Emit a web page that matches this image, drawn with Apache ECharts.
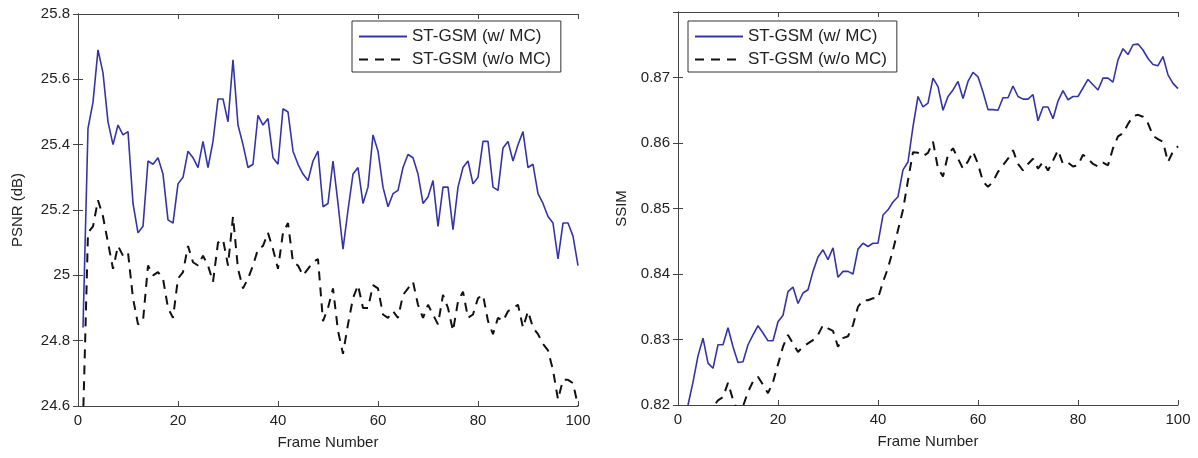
<!DOCTYPE html>
<html>
<head>
<meta charset="utf-8">
<script src="https://cdn.jsdelivr.net/npm/echarts@6/dist/echarts.min.js"></script>
<style>
  html, body { margin: 0; padding: 0; background: #fff; }
  #chart { width: 1198px; height: 458px; }
</style>
</head>
<body>
<div id="chart"></div>
<script>
// frame numbers 1..100
const frames = [];
for (let i = 1; i <= 100; i++) frames.push(i);

// PSNR (dB), left plot
const psnrMC = [
  24.84, 25.45, 25.53, 25.69, 25.62, 25.47, 25.40, 25.46, 25.43, 25.44,
  25.22, 25.13, 25.15, 25.35, 25.34, 25.36, 25.31, 25.17, 25.16, 25.28,
  25.30, 25.38, 25.36, 25.33, 25.41, 25.33, 25.41, 25.54, 25.54, 25.47,
  25.66, 25.46, 25.40, 25.33, 25.34, 25.49, 25.46, 25.48, 25.36, 25.34,
  25.51, 25.50, 25.38, 25.34, 25.31, 25.29, 25.35, 25.38, 25.21, 25.22,
  25.35, 25.22, 25.08, 25.20, 25.31, 25.33, 25.22, 25.27, 25.43, 25.38,
  25.27, 25.21, 25.25, 25.26, 25.33, 25.37, 25.36, 25.31, 25.22, 25.24,
  25.29, 25.15, 25.27, 25.27, 25.14, 25.27, 25.33, 25.35, 25.28, 25.30,
  25.41, 25.41, 25.27, 25.26, 25.39, 25.41, 25.35, 25.40, 25.44, 25.33,
  25.34, 25.25, 25.22, 25.18, 25.16, 25.05, 25.16, 25.16, 25.12, 25.03
];
const psnrNoMC = [
  24.55, 25.13, 25.15, 25.23, 25.18, 25.10, 25.02, 25.09, 25.06, 25.07,
  24.93, 24.85, 24.86, 25.03, 25.00, 25.01, 24.99, 24.90, 24.87, 24.99,
  25.01, 25.09, 25.04, 25.03, 25.06, 25.03, 24.98, 25.10, 25.11, 25.03,
  25.18, 25.02, 24.96, 24.99, 25.03, 25.08, 25.09, 25.13, 25.08, 25.02,
  25.13, 25.16, 25.04, 25.03, 25.00, 25.02, 25.04, 25.05, 24.86, 24.90,
  24.96, 24.83, 24.76, 24.85, 24.93, 24.97, 24.90, 24.90, 24.97, 24.96,
  24.88, 24.87, 24.89, 24.87, 24.94, 24.96, 24.98, 24.91, 24.87, 24.91,
  24.88, 24.85, 24.94, 24.90, 24.83, 24.92, 24.95, 24.87, 24.88, 24.93,
  24.94, 24.86, 24.82, 24.87, 24.86, 24.89, 24.90, 24.91, 24.84, 24.89,
  24.84, 24.82, 24.79, 24.77, 24.71, 24.62, 24.68, 24.68, 24.67, 24.60
];

// SSIM, right plot
const ssimMC = [
  0.8185, 0.8200, 0.8235, 0.8275, 0.8302, 0.8264, 0.8256, 0.8292, 0.8292, 0.8318,
  0.8289, 0.8265, 0.8266, 0.8292, 0.8307, 0.8321, 0.8310, 0.8298, 0.8298, 0.8327,
  0.8337, 0.8373, 0.8380, 0.8355, 0.8371, 0.8376, 0.8404, 0.8426, 0.8437, 0.8422,
  0.8440, 0.8395, 0.8404, 0.8404, 0.8400, 0.8438, 0.8447, 0.8442, 0.8447, 0.8447,
  0.8490, 0.8498, 0.8510, 0.8518, 0.8559, 0.8571, 0.8625, 0.8671, 0.8655, 0.8661,
  0.8699, 0.8686, 0.8650, 0.8671, 0.8681, 0.8694, 0.8668, 0.8694, 0.8708, 0.8701,
  0.8678, 0.8651, 0.8651, 0.8650, 0.8669, 0.8669, 0.8687, 0.8671, 0.8667, 0.8667,
  0.8674, 0.8634, 0.8655, 0.8655, 0.8637, 0.8664, 0.8680, 0.8666, 0.8671, 0.8671,
  0.8684, 0.8697, 0.8689, 0.8681, 0.8699, 0.8699, 0.8693, 0.8727, 0.8744, 0.8735,
  0.8750, 0.8751, 0.8742, 0.8729, 0.8720, 0.8718, 0.8732, 0.8704, 0.8691, 0.8683
];
const ssimNoMC = [
  0.8120, 0.8140, 0.8150, 0.8165, 0.8180, 0.8190, 0.8197, 0.8207, 0.8212, 0.8234,
  0.8208, 0.8190, 0.8198, 0.8220, 0.8236, 0.8243, 0.8231, 0.8218, 0.8235, 0.8262,
  0.8289, 0.8307, 0.8294, 0.8281, 0.8289, 0.8294, 0.8299, 0.8307, 0.8322, 0.8317,
  0.8313, 0.8289, 0.8302, 0.8305, 0.8322, 0.8350, 0.8360, 0.8360, 0.8363, 0.8363,
  0.8388, 0.8409, 0.8437, 0.8467, 0.8498, 0.8543, 0.8586, 0.8585, 0.8580, 0.8585,
  0.8602, 0.8561, 0.8549, 0.8582, 0.8592, 0.8576, 0.8561, 0.8572, 0.8587, 0.8568,
  0.8541, 0.8533, 0.8541, 0.8556, 0.8566, 0.8576, 0.8589, 0.8568, 0.8558, 0.8568,
  0.8576, 0.8561, 0.8571, 0.8558, 0.8573, 0.8589, 0.8568, 0.8570, 0.8564, 0.8566,
  0.8582, 0.8576, 0.8568, 0.8564, 0.8570, 0.8566, 0.8592, 0.8610, 0.8615, 0.8629,
  0.8641, 0.8643, 0.8640, 0.8630, 0.8611, 0.8606, 0.8602, 0.8571, 0.8587, 0.8595
];

const nameMC = 'ST-GSM (w/ MC)';
const nameNoMC = 'ST-GSM (w/o MC)';

const font = 'Liberation Sans, Arial, sans-serif';
const axisColor = '#444';
const txt = '#222';

function pairs(ys) { return frames.map((f, i) => [f, ys[i]]); }

// bottom/left axes carry labels, top/right ones only mirror the ticks (matlab box)
function xAx(grid, main) {
  return {
    type: 'value', gridIndex: grid, min: 0, max: 100, interval: 20,
    position: main ? 'bottom' : 'top',
    name: main ? 'Frame Number' : '', nameLocation: 'middle', nameGap: 29,
    nameTextStyle: { fontFamily: font, fontSize: 15, color: txt },
    axisLine: { show: true, lineStyle: { color: axisColor, width: 1 } },
    axisTick: { show: true, inside: true, length: 5, lineStyle: { color: axisColor } },
    axisLabel: { show: main, fontFamily: font, fontSize: 15, color: txt, margin: 7 },
    splitLine: { show: false }
  };
}
function yAx(grid, main, o) {
  return Object.assign({
    type: 'value', gridIndex: grid,
    position: main ? 'left' : 'right',
    nameLocation: 'middle', nameRotate: 90,
    nameTextStyle: { fontFamily: font, fontSize: 15, color: txt },
    axisLine: { show: true, lineStyle: { color: axisColor, width: 1 } },
    axisTick: { show: true, inside: true, length: 5, lineStyle: { color: axisColor } },
    axisLabel: {
      show: main, fontFamily: font, fontSize: 15, color: txt, margin: 8,
      formatter: v => (o.top != null && v > o.top ? '' : String(+v.toFixed(2)))
    },
    splitLine: { show: false }
  }, o.ax);
}

const psnrAx = { min: 24.6, max: 25.8, interval: 0.2 };
const ssimAx = { min: 0.82, max: 0.88, interval: 0.01 };

function legend(left) {
  return {
    left: left, top: 21, orient: 'vertical',
    data: [nameMC, nameNoMC],
    backgroundColor: '#fff', borderColor: '#333', borderWidth: 1, borderRadius: 0,
    padding: [7, 10, 4, 6], itemGap: 6, itemWidth: 48, itemHeight: 18,
    selectedMode: false,
    itemStyle: { opacity: 0 },   // hide the marker, keep only the line sample
    textStyle: { fontFamily: font, fontSize: 17, color: txt }
  };
}

const blueStyle = { color: '#3434a8', width: 1.6, type: 'solid' };
const dashStyle = { color: '#111', width: 2, type: [9, 7] };

function line(name, ys, xi, yi, style) {
  return {
    name: name, type: 'line', xAxisIndex: xi, yAxisIndex: yi,
    data: pairs(ys), symbol: 'none', showSymbol: false, clip: true,
    itemStyle: { color: style.color },
    lineStyle: style, animation: false
  };
}

const chart = echarts.init(document.getElementById('chart'), null, { renderer: 'canvas' });
chart.setOption({
  backgroundColor: '#fff',
  animation: false,
  grid: [
    { left: 78, top: 14, width: 500, height: 392 },
    { left: 678, top: 12, width: 500, height: 393 }
  ],
  legend: [legend(352), legend(688)],
  xAxis: [xAx(0, true), xAx(0, false), xAx(1, true), xAx(1, false)],
  yAxis: [
    yAx(0, true, { ax: Object.assign({ name: 'PSNR (dB)', nameGap: 53 }, psnrAx) }),
    yAx(0, false, { ax: Object.assign({}, psnrAx) }),
    yAx(1, true, { ax: Object.assign({ name: 'SSIM', nameGap: 49 }, ssimAx), top: 0.875 }),
    yAx(1, false, { ax: Object.assign({}, ssimAx), top: 0.875 })
  ],
  series: [
    line(nameMC, psnrMC, 0, 0, blueStyle),
    line(nameNoMC, psnrNoMC, 0, 0, dashStyle),
    line(nameMC, ssimMC, 2, 2, blueStyle),
    line(nameNoMC, ssimNoMC, 2, 2, dashStyle)
  ]
});
</script>
</body>
</html>
